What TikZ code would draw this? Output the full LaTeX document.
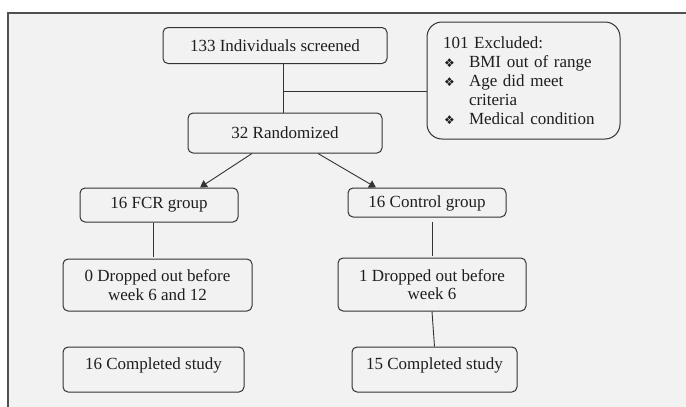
\documentclass[tikz,border=0pt]{standalone}
\usepackage{fontspec}
\setmainfont{Liberation Serif}
\newfontfamily\symfont{DejaVu Sans}
\usetikzlibrary{arrows.meta}
\definecolor{bg}{HTML}{F2F2F2}
\definecolor{ln}{HTML}{333333}
\definecolor{fr}{HTML}{505050}
\definecolor{tx}{HTML}{1E1E1E}
\newcommand{\mybul}{\makebox[26pt][l]{\hspace{1pt}{\symfont\fontsize{12}{12}\selectfont ❖}}}
\begin{document}
\begin{tikzpicture}[x=1pt,y=-1pt,
  box/.style={draw=ln, line width=1pt, rounded corners=5pt, fill=bg, text=tx,
    font=\fontsize{17}{18.5}\selectfont, inner sep=0pt, align=center},
  conn/.style={draw=ln, line width=0.9pt},
  arr/.style={conn, -{Triangle[width=8pt,length=7pt]}}]
\useasboundingbox (0,0) rectangle (686,407);
\path[fill=white] (0,0) rectangle (686,407);
\path[fill=bg] (8,13) rectangle (686,407);
\draw[fr, line width=1.5pt] (686,13) -- (8,13) -- (8,407);

\node[box, minimum width=224pt, minimum height=36pt] (scr) at (275,45.5) {133 Individuals screened};
\node[box, rounded corners=15pt, minimum height=117pt, text width=161pt, inner xsep=16pt,
  align=left, font=\fontsize{17}{19}\selectfont] (excl) at (523.5,80.5)
  {101 Excluded:\\ \mybul BMI out of range\\ \mybul Age did meet\\ \hspace*{26pt}criteria\\ \mybul Medical condition};
\node[box, minimum width=194pt, minimum height=40pt] (rand) at (285,133) {32 Randomized};
\node[box, minimum width=158pt, minimum height=34pt] (fcr) at (159,205) {16 FCR group};
\node[box, minimum width=158pt, minimum height=29pt, text height=12pt, text depth=2pt] (ctl) at (427,202.5) {16 Control group};
\node[box, minimum width=189pt, minimum height=52pt] (dropf) at (157.5,285) {0 Dropped out before\\week 6 and 12};
\node[box, minimum width=188pt, minimum height=53pt] (dropc) at (432,284.5) {1 Dropped out before\\week 6};
\node[box, minimum width=181pt, minimum height=45pt, text height=6pt, text depth=6pt] (compf) at (153.5,369.5) {16 Completed study};
\node[box, minimum width=165pt, minimum height=45pt, text height=6pt, text depth=6pt] (compc) at (434.5,369.5) {15 Completed study};

\coordinate (j) at (283,91);
\draw[conn] (j |- scr.south) -- (j |- rand.north);
\draw[conn] (j) -- (excl.west |- j);
\draw[arr] ([xshift=-33pt]rand.south) -- ([xshift=41pt]fcr.north);
\draw[arr] ([xshift=33pt]rand.south) -- ([xshift=-51pt]ctl.north);
\draw[conn] ([xshift=-6pt]fcr.south) -- ([xshift=-4.5pt,yshift=2pt]dropf.north);
\draw[conn, shorten <=4pt] ([xshift=5pt]ctl.south) -- ([yshift=1.5pt]dropc.north);
\draw[conn] (dropc.south) -- (compc.north);
\end{tikzpicture}
\end{document}
